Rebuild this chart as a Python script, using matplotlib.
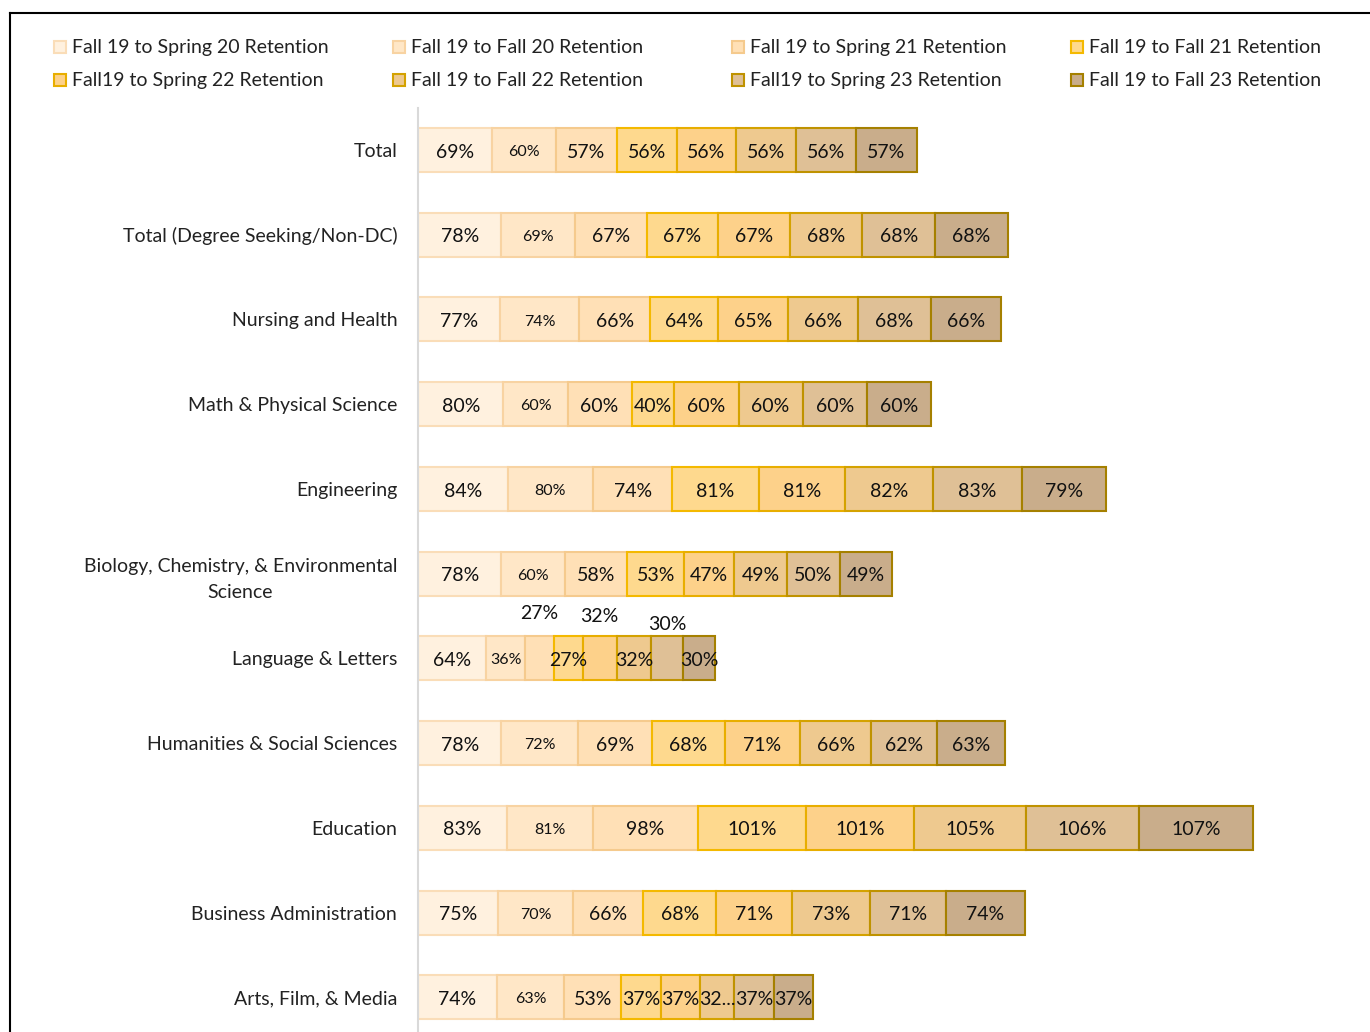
import matplotlib.pyplot as plt
from matplotlib.patches import Rectangle
from matplotlib.lines import Line2D

categories = ['Total', 'Total (Degree Seeking/Non-DC)', 'Nursing and Health',
              'Math & Physical Science', 'Engineering',
              'Biology, Chemistry, & Environmental\nScience', 'Language & Letters',
              'Humanities & Social Sciences', 'Education', 'Business Administration',
              'Arts, Film, & Media']

series = ['Fall 19 to Spring 20 Retention', 'Fall 19 to Fall 20 Retention',
          'Fall 19 to Spring 21 Retention', 'Fall 19 to Fall 21 Retention',
          'Fall19 to Spring 22 Retention', 'Fall 19 to Fall 22 Retention',
          'Fall19 to Spring 23 Retention', 'Fall 19 to Fall 23 Retention']

fa19_sp20 = [69, 78, 77, 80, 84, 78, 64, 78, 83, 75, 74]
fa19_fa20 = [60, 69, 74, 60, 80, 60, 36, 72, 81, 70, 63]
fa19_sp21 = [57, 67, 66, 60, 74, 58, 27, 69, 98, 66, 53]
fa19_fa21 = [56, 67, 64, 40, 81, 53, 27, 68, 101, 68, 37]
fa19_sp22 = [56, 67, 65, 60, 81, 47, 32, 71, 101, 71, 37]
fa19_fa22 = [56, 68, 66, 60, 82, 49, 32, 66, 105, 73, 32]
fa19_sp23 = [56, 68, 68, 60, 83, 50, 30, 62, 106, 71, 37]
fa19_fa23 = [57, 68, 66, 60, 79, 49, 30, 63, 107, 74, 37]
values = [fa19_sp20, fa19_fa20, fa19_sp21, fa19_fa21,
          fa19_sp22, fa19_fa22, fa19_sp23, fa19_fa23]

fills = ['#FFF1DF', '#FFE7C7', '#FFE0B6', '#FED98E',
         '#FDD18A', '#EEC98F', '#DFC096', '#C9AD8B']
edges = ['#FADDB8', '#F8D3A2', '#F5CA8D', '#F4B900',
         '#E8AE00', '#D4A200', '#BF9200', '#A58000']

# labels that Excel moved above the bar: (row, series) -> offset in rows
moved = {(6, 2): -0.56, (6, 4): -0.52, (6, 6): -0.42}
# truncated label
override = {(10, 5): '32...'}

W, H = 1370, 1032
fig = plt.figure(figsize=(W / 100, H / 100), dpi=100)
plt.rcParams['font.family'] = ['Lato', 'DejaVu Sans']

ax = fig.add_axes([418 / W, 0, (1340 - 418) / W, (H - 107.6) / H])
ax.set_xlim(0, 863)
ax.set_ylim(10.41, -0.5)

ypos = list(range(len(categories)))
left = [0] * len(categories)
for s, vals in enumerate(values):
    ax.barh(ypos, vals, left=left, height=0.52, color=fills[s],
            edgecolor=edges[s], linewidth=1.5)
    for r, v in enumerate(vals):
        txt = override.get((r, s), f'{v}%')
        cx = left[r] + v / 2
        cy = r + moved.get((r, s), 0) + 0.025
        ax.text(cx, cy, txt, ha='center', va='center',
                fontsize=11.5 if s == 1 else 14, color='#111111')
    left = [a + b for a, b in zip(left, vals)]

ax.set_yticks(ypos)
ax.set_yticklabels(categories, fontsize=14, color='#222222',
                   multialignment='center', linespacing=1.6)
ax.tick_params(axis='y', length=0, pad=15)
ax.set_xticks([])
for sp in ['top', 'right', 'bottom']:
    ax.spines[sp].set_visible(False)
ax.spines['left'].set_color('#D9D9D9')
ax.spines['left'].set_linewidth(1.5)

# legend, 4 columns x 2 rows
col_x = [60, 399, 738, 1077]
row_y = [47, 80]
for i, name in enumerate(series):
    r, c = divmod(i, 4)
    x, y = col_x[c], row_y[r]
    fig.add_artist(Rectangle(((x - 6) / W, 1 - (y + 6) / H), 12 / W, 12 / H,
                             transform=fig.transFigure, facecolor=fills[i],
                             edgecolor=edges[i], linewidth=1.5))
    fig.text((x + 12) / W, 1 - (y + 6) / H, name, ha='left', va='baseline',
             fontsize=14, color='#222222')

# outer chart frame
fig.add_artist(Line2D([10 / W, 10 / W], [0, 1 - 13 / H], transform=fig.transFigure,
                      color='black', linewidth=1.5))
fig.add_artist(Line2D([10 / W, 1], [1 - 13 / H, 1 - 13 / H], transform=fig.transFigure,
                      color='black', linewidth=1.5))

fig.savefig('out.png', dpi=100)
